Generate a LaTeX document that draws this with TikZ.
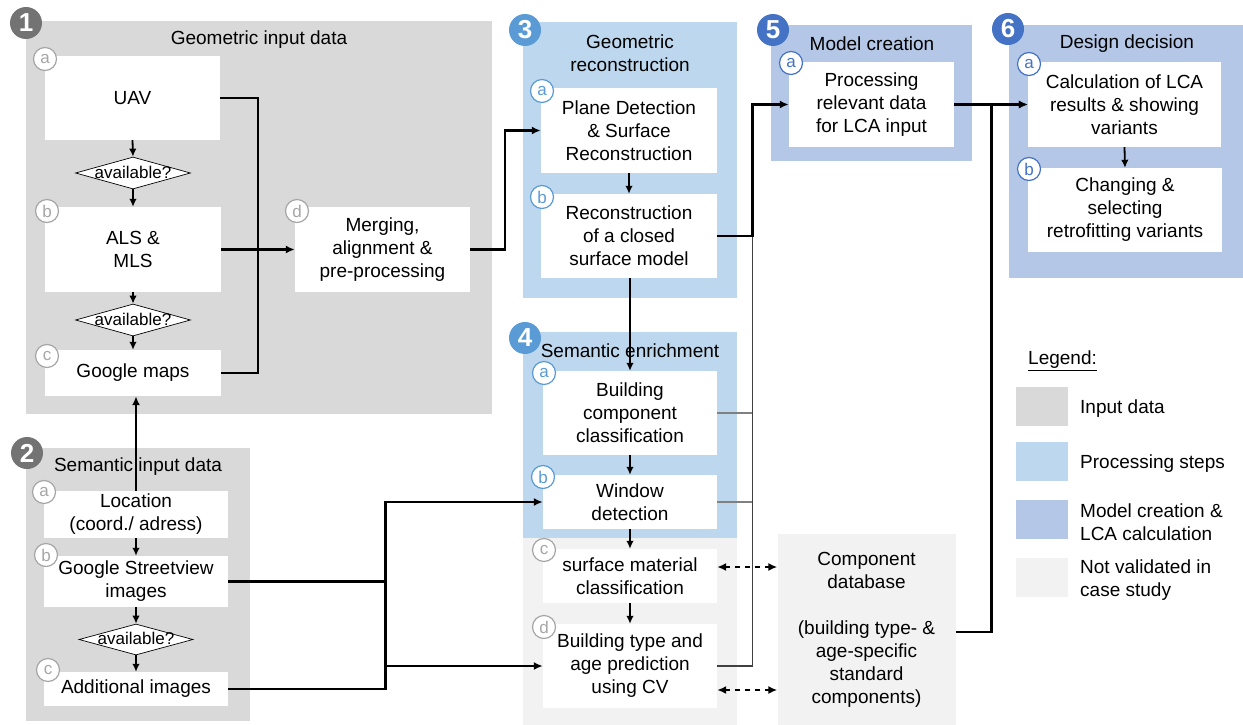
\documentclass[tikz,border=0pt]{standalone}
\usepackage{fontspec}
\setmainfont{Liberation Sans}
\usetikzlibrary{arrows.meta,shapes.geometric,calc}
\definecolor{inputgray}{HTML}{D9D9D9}
\definecolor{procblue}{HTML}{BDD7EE}
\definecolor{modelblue}{HTML}{B4C7E7}
\definecolor{nvgray}{HTML}{F2F2F2}
\definecolor{badgegray}{HTML}{737373}
\definecolor{badgeblue}{HTML}{5B9BD5}
\definecolor{badgedark}{HTML}{4472C4}
\definecolor{letgray}{HTML}{A6A6A6}
\begin{document}
\begin{tikzpicture}[x=1pt,y=-1pt,
 every node/.style={font=\fontsize{19}{23}\selectfont},
 box/.style={fill=white, align=center, inner sep=0pt},
 badge/.style={circle, minimum size=32pt, inner sep=0pt, text=white, font=\fontsize{26}{26}\selectfont\bfseries},
 letter/.style={circle, fill=white, draw=#1, text=#1, line width=1.2pt, minimum size=23pt, inner sep=0pt, font=\fontsize{17}{17}\selectfont},
 avail/.style={diamond, draw=black, fill=white, line width=0.7pt, minimum width=115pt, minimum height=32pt, inner sep=0pt},
 availtxt/.style={font=\fontsize{17}{17}\selectfont, inner sep=0pt},
 conn/.style={line width=2.3pt, -{Latex[length=9pt,width=8pt]}},
 plain/.style={line width=2.3pt},
 stepar/.style={line width=1.8pt, -{Latex[length=8pt,width=7.5pt]}},
 thinline/.style={line width=1.2pt, draw=#1},
 dasharr/.style={line width=1.7pt, dash pattern=on 5pt off 5pt, {Latex[length=9pt,width=8pt]}-{Latex[length=9pt,width=8pt]}},
 swatch/.style={minimum width=52pt, minimum height=39pt, inner sep=0pt},
 legtxt/.style={anchor=west, align=left, inner sep=0pt},
]
\useasboundingbox (0,0) rectangle (1243,725);
\fill[white] (0,0) rectangle (1243,725);

% section backgrounds
\fill[inputgray] (26,21) rectangle (492,414);
\fill[inputgray] (26,448) rectangle (250,721);
\fill[procblue] (523,22) rectangle (737,298);
\fill[procblue] (523,332) rectangle (737,538);
\fill[nvgray] (523,538) rectangle (737,725);
\fill[modelblue] (771,25) rectangle (972,161);
\fill[modelblue] (1009,25) rectangle (1243,278);

% titles
\node (t1) at (259,40) {Geometric input data};
\node (t2) at (138,467) {Semantic input data};
\node[align=center] (t3) at (630,53) {Geometric\\reconstruction};
\node (t4) at (630,351) {Semantic enrichment};
\node (t5) at (872,44) {Model creation};
\node (t6) at (1127,44) {Design decision};

% section 1
\node[box, minimum width=175pt, minimum height=84pt] (uav) at (132.5,98) {UAV};
\node[avail] (d1) at (133,173) {};
\node[availtxt] (d1t) at (133,172) {available?};
\node[box, minimum width=176pt, minimum height=85pt] (als) at (133,249.5) {ALS \&\\MLS};
\node[avail] (d2) at (133,320) {};
\node[availtxt] (d2t) at (133,319) {available?};
\node[box, minimum width=176pt, minimum height=46pt] (gmaps) at (133,373) {Google maps};
\node[box, minimum width=175pt, minimum height=85pt] (merge) at (382.5,249.5) {Merging,\\alignment \&\\pre-processing};

% section 2
\node[box, minimum width=184pt, minimum height=47pt] (loc) at (136,514.5) {Location\\(coord./ adress)};
\node[box, minimum width=184pt, minimum height=51pt] (gsv) at (136,581.5) {Google Streetview\\images};
\node[avail, minimum width=114pt, minimum height=31pt] (d3) at (136,639.5) {};
\node[availtxt] (d3t) at (136,638.5) {available?};
\node[box, minimum width=184pt, minimum height=34pt] (addimg) at (136,689) {Additional images};

% section 3
\node[box, minimum width=176pt, minimum height=85pt] (plane) at (629,130.5) {Plane Detection\\\& Surface\\Reconstruction};
\node[box, minimum width=176pt, minimum height=84pt] (closed) at (629,236) {Reconstruction\\of a closed\\surface model};

% section 4
\node[box, minimum width=174pt, minimum height=84pt] (bcc) at (630,413) {Building\\component\\classification};
\node[box, minimum width=174pt, minimum height=54pt] (win) at (630,502) {Window\\detection};
\node[box, minimum width=174pt, minimum height=54pt] (smc) at (630,576) {surface material\\classification};
\node[box, minimum width=174pt, minimum height=84pt] (btype) at (630,666) {Building type and\\age prediction\\using CV};

% component database
\node[fill=nvgray, align=center, inner sep=0pt, minimum width=178pt, minimum height=191pt] (cdb) at (866.5,629.5) {Component\\database\\[23pt](building type- \&\\age-specific\\standard\\components)};

% section 5 and 6
\node[box, minimum width=165pt, minimum height=85pt] (proc) at (871.5,104.5) {Processing\\relevant data\\for LCA input};
\node[box, minimum width=193pt, minimum height=85pt] (calc) at (1124.5,104.5) {Calculation of LCA\\results \& showing\\variants};
\node[box, minimum width=194pt, minimum height=84pt] (retro) at (1125,210) {Changing \&\\selecting\\retrofitting variants};

% step arrows
\draw[stepar] (uav.south) -- (d1.north);
\draw[stepar] (d1.south) -- (als.north);
\draw[stepar] (als.south) -- (d2.north);
\draw[stepar] (d2.south) -- (gmaps.north);
\draw[stepar] (loc.south) -- (gsv.north);
\draw[stepar] (gsv.south) -- (d3.north);
\draw[stepar] (d3.south) -- (addimg.north);
\draw[stepar] (plane.south) -- (closed.north);
\draw[stepar] (closed.south -| bcc.north) -- (bcc.north);
\draw[stepar] (bcc.south) -- (win.north);
\draw[stepar] (win.south) -- (smc.north);
\draw[stepar] (smc.south) -- (btype.north);
\draw[stepar] (calc.south) -- (retro.north);

% connectors
\coordinate (j1) at (258,249);
\draw[plain] (uav.east) -| (j1);
\draw[plain] (gmaps.east) -| (j1);
\draw[conn] (als.east) -- (merge.west);
\coordinate (j2) at (505,190);
\draw[conn] (merge.east) -| (j2) |- (plane.west);
\draw[conn] (loc.north) -- (loc.north |- gmaps.south);
\coordinate (j3) at (752.5,170);
\draw[thinline=gray] (bcc.east) -- (bcc.east -| j3);
\draw[thinline=gray] (win.east) -- (win.east -| j3);
\draw[thinline=black!75] (btype.east) -| (j3 |- closed.east);
\draw[conn] (closed.east) -| (j3) |- (proc.west);
\coordinate (j5) at (385.5,600);
\draw[plain] (gsv.east) -| (j5);
\draw[plain] (addimg.east) -| (j5);
\draw[conn] (j5) |- (win.west);
\draw[conn] (j5) |- (btype.west);
\draw[dasharr] ([yshift=9pt]smc.east) -- ([yshift=9pt]smc.east -| cdb.west);
\draw[dasharr] ([yshift=-24pt]btype.east) -- ([yshift=-24pt]btype.east -| cdb.west);
\coordinate (j6) at (991.5,300);
\draw[conn] ([yshift=-2.5pt]cdb.east) -| (j6) |- (calc.west);
\draw[conn] (proc.east) -- (calc.west);

% letters
\node[letter=letgray] (l1a) at (45,59) {a};
\node[letter=letgray] (l1b) at (47,211) {b};
\node[letter=letgray] (l1c) at (47,356) {c};
\node[letter=letgray] (l1d) at (297,211) {d};
\node[letter=letgray] (l2a) at (44,492) {a};
\node[letter=letgray] (l2b) at (46,555) {b};
\node[letter=letgray] (l2c) at (48,670) {c};
\node[letter=badgeblue] (l3a) at (542,91) {a};
\node[letter=badgeblue] (l3b) at (542,197) {b};
\node[letter=badgeblue] (l4a) at (544,373) {a};
\node[letter=badgeblue] (l4b) at (543,477) {b};
\node[letter=letgray] (l4c) at (544,550) {c};
\node[letter=letgray] (l4d) at (544,627) {d};
\node[letter=badgedark] (l5a) at (791,63) {a};
\node[letter=badgedark] (l6a) at (1029,64) {a};
\node[letter=badgedark] (l6b) at (1029,169) {b};

% badges
\node[badge, fill=badgegray] (b1) at (26,23) {1};
\node[badge, fill=badgegray] (b2) at (27,453) {2};
\node[badge, fill=badgeblue] (b3) at (525,30) {3};
\node[badge, fill=badgeblue] (b4) at (525,338) {4};
\node[badge, fill=badgedark] (b5) at (773,30) {5};
\node[badge, fill=badgedark] (b6) at (1008,29) {6};

% legend
\node[anchor=west, inner sep=0pt] (lg) at (1028,361) {\underline{Legend:}};
\node[swatch, fill=inputgray] (sw1) at (1042,406.5) {};
\node[swatch, fill=procblue] (sw2) at (1042,461.5) {};
\node[swatch, fill=modelblue] (sw3) at (1042,519) {};
\node[swatch, fill=nvgray] (sw4) at (1042,577) {};
\node[legtxt] (lt1) at (1080,409) {Input data};
\node[legtxt] (lt2) at (1080,464) {Processing steps};
\node[legtxt] (lt3) at (1080,522.5) {Model creation \&\\LCA calculation};
\node[legtxt] (lt4) at (1080,580.5) {Not validated in\\case study};
\end{tikzpicture}
\end{document}
